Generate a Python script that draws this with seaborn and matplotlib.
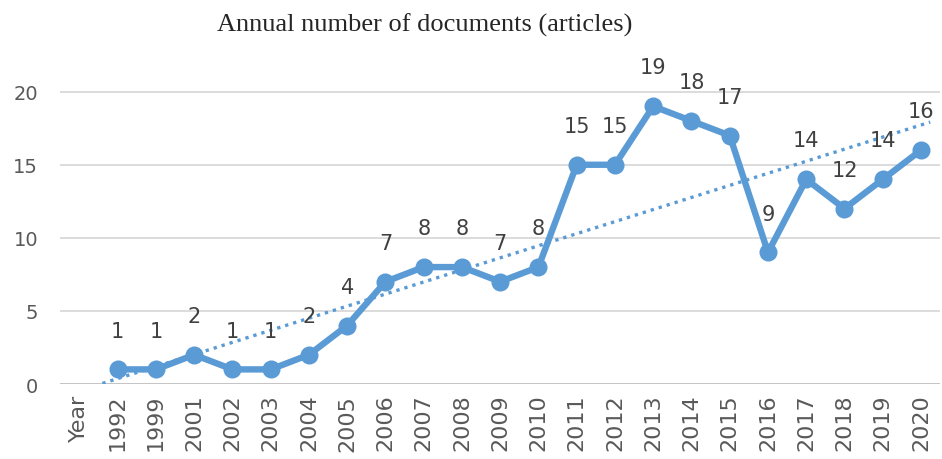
import numpy as np
import pandas as pd
import seaborn as sns
import matplotlib.pyplot as plt

# categories on the x axis ("Year" is the header cell, no value)
labels = ["Year", "1992", "1999", "2001", "2002", "2003", "2004", "2005", "2006",
          "2007", "2008", "2009", "2010", "2011", "2012", "2013", "2014", "2015",
          "2016", "2017", "2018", "2019", "2020"]
docs = [np.nan, 1, 1, 2, 1, 1, 2, 4, 7, 8, 8, 7, 8, 15, 15, 19, 18, 17, 9, 14, 12, 14, 16]
yticks = [0, 5, 10, 15, 20]

blue = "#5B9BD5"
grey_txt = "#595959"

sns.set_theme(style="white")
plt.rcParams["font.family"] = ["DejaVu Sans"]

df = pd.DataFrame({"pos": np.arange(len(labels)), "docs": docs})
valid = df.dropna()

fig = plt.figure(figsize=(9.42, 4.60), dpi=100)
ax = fig.add_axes([0.064, 0.163, 0.934, 0.715])

# linear trend (Excel style) fitted on the points
k, b = np.polyfit(valid["pos"], valid["docs"], 1)
tx = np.array([0.6, 22.24])
ax.plot(tx, k * tx + b, color=blue, lw=2.4, ls=(0, (1, 1.5)), zorder=2)

sns.lineplot(data=valid, x="pos", y="docs", ax=ax, color=blue, lw=4.6,
             marker="o", markersize=13, markeredgewidth=0, zorder=3)

for x, y in zip(valid["pos"], valid["docs"]):
    ax.annotate(f"{int(y)}", (x, y), xytext=(0, 28), textcoords="offset points",
                ha="center", va="center", fontsize=15, color="#404040",
                annotation_clip=False)

ax.set_xlim(-0.5, 22.5)
ax.set_ylim(0, 22.5)
ax.set_yticks(yticks)
ax.set_xticks(df["pos"])
ax.set_xticklabels(labels, rotation=90, fontsize=16, color=grey_txt)
ax.tick_params(axis="y", labelsize=14, labelcolor=grey_txt, pad=16, length=0)
ax.tick_params(axis="x", pad=7, length=0)
ax.set_xlabel("")
ax.set_ylabel("")
for y in yticks:
    ax.axhline(y, color="#D9D9D9" if y else "#BFBFBF", lw=1.3, zorder=0)
for s in ax.spines.values():
    s.set_visible(False)

fig.text(0.451, 0.946, "Annual number of documents (articles)",
         family="Liberation Serif", fontsize=19, color="#262626",
         ha="center", va="center")

fig.savefig("out.png", dpi=100)
